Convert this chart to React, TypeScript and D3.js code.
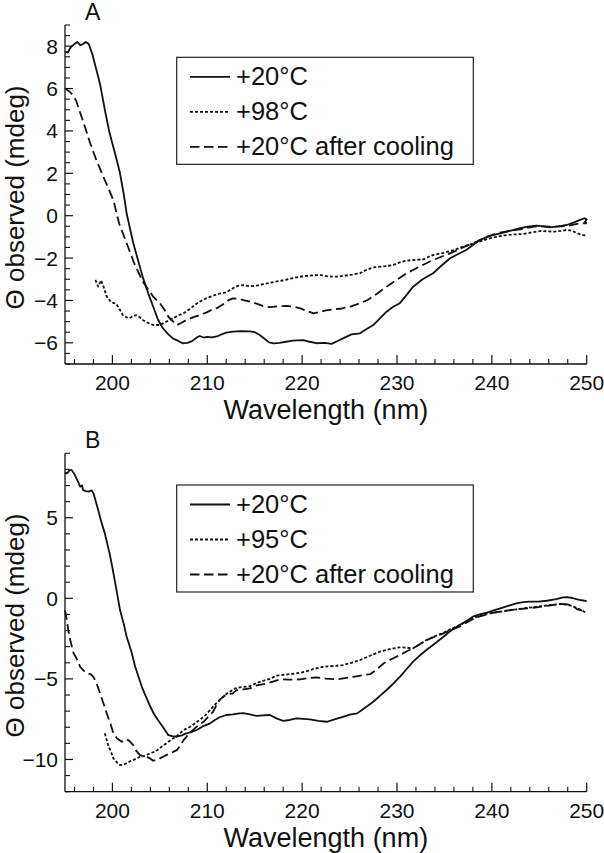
import React from "react";
import * as d3 from "d3";

type Pt = [number, number];

// ---------- Panel A data (wavelength nm, Θ mdeg) ----------
const A_20C: Pt[] = [
  [195.0, 7.75], [195.3, 7.7], [195.6, 7.95], [196.0, 8.1], [196.3, 8.2], [196.6, 8.05], [196.9, 8.1],
  [197.2, 8.2], [197.5, 8.1], [197.9, 7.6], [198.3, 6.9], [198.7, 6.2], [199.2, 5.0], [199.7, 3.9],
  [200.3, 2.9], [200.8, 2.0], [201.2, 1.0], [201.5, 0.1], [202.2, -1.3], [202.7, -2.1], [203.2, -2.9],
  [203.8, -3.7], [204.3, -4.3], [204.8, -4.9], [205.3, -5.3], [205.9, -5.6], [206.4, -5.8], [206.9, -5.9],
  [207.4, -6.02], [207.9, -6.0], [208.4, -5.92], [208.9, -5.75], [209.2, -5.68], [209.6, -5.75], [210.0, -5.72],
  [210.5, -5.74], [211.0, -5.7], [211.5, -5.6], [212.0, -5.52], [212.7, -5.47], [213.5, -5.45], [214.5, -5.46],
  [215.0, -5.5], [215.5, -5.62], [216.0, -5.8], [216.5, -5.98], [217.0, -6.03], [217.6, -6.0], [218.3, -5.95],
  [219.0, -5.9], [220.1, -5.87], [220.8, -5.95], [221.5, -6.02], [222.4, -6.0], [223.1, -6.05], [223.8, -5.9],
  [224.3, -5.79], [225.2, -5.6], [226.1, -5.55], [226.8, -5.35], [227.5, -5.16], [228.2, -4.85], [228.9, -4.53],
  [229.6, -4.3], [230.3, -4.13], [231.0, -3.75], [231.7, -3.35], [232.7, -3.0], [233.8, -2.72], [234.7, -2.35],
  [235.6, -2.01], [236.5, -1.8], [237.3, -1.62], [238.0, -1.38], [238.7, -1.15], [239.8, -0.95], [240.9, -0.83],
  [242.0, -0.7], [243.0, -0.59], [243.8, -0.52], [244.7, -0.47], [245.4, -0.5], [246.1, -0.55], [247.0, -0.5],
  [247.9, -0.44], [248.6, -0.33], [249.3, -0.2], [249.8, -0.12], [250.0, -0.18], [249.8, -0.3], [250.0, -0.35],
];

const A_98C: Pt[] = [
  [198.2, -3.03], [198.5, -3.35], [198.8, -3.05], [199.1, -3.4], [199.4, -3.82], [199.9, -4.1], [200.4, -4.15],
  [200.8, -4.45], [201.1, -4.69], [201.5, -4.8], [201.8, -4.84], [202.2, -4.72], [202.5, -4.69], [202.9, -4.8],
  [203.2, -4.92], [203.7, -5.05], [204.3, -5.16], [205.0, -5.16], [205.7, -5.0], [206.4, -4.84], [207.0, -4.7],
  [207.5, -4.6], [208.2, -4.4], [208.7, -4.2], [209.2, -4.06], [209.9, -3.9], [210.6, -3.78], [211.3, -3.68],
  [212.0, -3.62], [212.4, -3.51], [212.8, -3.4], [213.3, -3.3], [213.8, -3.28], [214.5, -3.33], [215.2, -3.3],
  [216.0, -3.22], [217.0, -3.13], [217.7, -3.08], [218.5, -3.0], [219.4, -2.91], [220.2, -2.85], [221.0, -2.82],
  [221.9, -2.8], [222.7, -2.86], [223.6, -2.88], [224.5, -2.83], [225.3, -2.78], [226.1, -2.72], [226.8, -2.55],
  [227.5, -2.44], [228.5, -2.4], [229.6, -2.33], [230.3, -2.2], [231.0, -2.12], [232.0, -2.08], [232.8, -2.06],
  [233.3, -1.95], [233.8, -1.86], [234.9, -1.75], [236.0, -1.62], [237.0, -1.46], [238.1, -1.3], [239.0, -1.18],
  [239.8, -1.07], [240.7, -0.98], [241.6, -0.91], [242.5, -0.88], [243.4, -0.86], [244.3, -0.78], [245.2, -0.72],
  [245.9, -0.74], [246.6, -0.75], [247.3, -0.72], [247.9, -0.67], [248.5, -0.72], [249.0, -0.83], [249.5, -0.9],
  [250.0, -0.94],
];

const A_20C_cooled: Pt[] = [
  [195.0, 6.01], [195.5, 5.85], [195.9, 5.65], [196.2, 5.4], [196.5, 4.99], [197.1, 4.2], [197.6, 3.49],
  [198.3, 2.63], [199.2, 1.68], [200.1, 0.74], [200.7, -0.36], [201.5, -1.3], [202.3, -2.25], [203.2, -3.11],
  [204.3, -3.82], [205.0, -4.13], [205.5, -4.45], [205.9, -4.77], [206.4, -5.0], [206.8, -5.16], [207.3, -5.05],
  [207.8, -4.92], [208.5, -4.8], [209.2, -4.69], [210.0, -4.55], [210.6, -4.4], [211.0, -4.37], [211.6, -4.2],
  [212.2, -4.0], [212.7, -3.9], [213.2, -3.92], [213.8, -3.98], [214.5, -4.06], [215.2, -4.15], [215.9, -4.27],
  [216.6, -4.32], [217.5, -4.27], [218.4, -4.26], [219.1, -4.3], [219.8, -4.37], [220.5, -4.5], [221.2, -4.61],
  [221.8, -4.55], [222.5, -4.47], [223.3, -4.42], [224.2, -4.38], [225.1, -4.29], [226.0, -4.15], [226.9, -3.98],
  [227.9, -3.68], [228.9, -3.35], [230.0, -3.02], [231.0, -2.72], [232.4, -2.4], [233.8, -2.09], [235.0, -1.88],
  [236.0, -1.7], [237.2, -1.45], [238.4, -1.23], [239.5, -1.0], [240.5, -0.83], [241.5, -0.75], [242.6, -0.67],
  [243.5, -0.6], [244.4, -0.52], [245.5, -0.5], [246.6, -0.52], [247.3, -0.5], [247.9, -0.49], [248.6, -0.42],
  [249.3, -0.36], [250.0, -0.36],
];

// ---------- Panel B data ----------
const B_20C: Pt[] = [
  [195.0, 7.8], [195.2, 7.75], [195.5, 7.95], [195.7, 7.96], [196.0, 7.7], [196.2, 7.45], [196.4, 7.2],
  [196.6, 6.93], [196.8, 7.0], [196.9, 6.72], [197.2, 6.65], [197.5, 6.62], [197.8, 6.7], [198.0, 6.52],
  [198.5, 5.48], [198.8, 4.8], [199.2, 4.03], [199.7, 2.79], [200.0, 1.9], [200.3, 0.93], [200.8, -0.73],
  [201.2, -1.6], [201.5, -2.38], [202.0, -3.3], [202.4, -4.25], [203.1, -5.49], [203.6, -6.2], [204.0, -6.73],
  [204.4, -7.2], [204.8, -7.55], [205.4, -8.05], [205.9, -8.49], [206.3, -8.55], [206.8, -8.59], [207.3, -8.5],
  [207.8, -8.38], [208.3, -8.3], [208.9, -8.17], [209.5, -7.95], [210.3, -7.76], [210.8, -7.55], [211.3, -7.38],
  [212.0, -7.24], [212.7, -7.2], [213.4, -7.14], [213.8, -7.12], [214.5, -7.2], [215.2, -7.3], [215.9, -7.26],
  [216.6, -7.24], [217.3, -7.45], [218.0, -7.6], [218.7, -7.55], [219.4, -7.45], [220.1, -7.48], [220.8, -7.51],
  [221.7, -7.6], [222.6, -7.66], [223.5, -7.5], [224.3, -7.35], [225.0, -7.22], [225.8, -7.14], [226.6, -6.8],
  [227.5, -6.42], [228.2, -6.05], [228.9, -5.69], [229.6, -5.3], [230.3, -4.87], [231.0, -4.4], [231.7, -3.93],
  [232.4, -3.55], [233.1, -3.21], [234.0, -2.8], [234.9, -2.38], [235.7, -2.0], [236.6, -1.66], [237.3, -1.4],
  [238.0, -1.14], [238.8, -0.98], [239.5, -0.89], [240.2, -0.75], [240.9, -0.62], [241.8, -0.45], [242.6, -0.31],
  [243.3, -0.24], [244.0, -0.21], [244.9, -0.2], [245.8, -0.15], [246.8, -0.05], [247.5, 0.06], [247.9, 0.08],
  [248.5, 0.02], [249.0, -0.06], [249.5, -0.12], [250.0, -0.17],
];

const B_95C: Pt[] = [
  [199.2, -8.38], [199.4, -8.8], [199.6, -9.21], [199.9, -9.6], [200.1, -9.93], [200.5, -10.2], [200.8, -10.35],
  [201.1, -10.32], [201.5, -10.24], [201.9, -10.1], [202.2, -10.04], [202.6, -9.92], [202.9, -9.83], [203.3, -9.8],
  [203.6, -9.73], [204.0, -9.6], [204.5, -9.52], [205.0, -9.3], [205.4, -9.11], [205.9, -8.9], [206.4, -8.69],
  [206.8, -8.55], [207.1, -8.38], [207.6, -8.15], [208.2, -7.97], [208.7, -7.75], [209.2, -7.55], [209.8, -7.25],
  [210.3, -6.93], [210.8, -6.6], [211.3, -6.31], [211.8, -6.05], [212.2, -5.85], [212.7, -5.69], [213.1, -5.55],
  [213.8, -5.5], [214.5, -5.45], [215.2, -5.25], [216.0, -5.1], [216.6, -5.0], [217.3, -4.8], [218.0, -4.75],
  [218.8, -4.7], [219.8, -4.62], [220.6, -4.5], [221.4, -4.35], [222.2, -4.25], [223.3, -4.2], [224.3, -4.14],
  [225.2, -4.0], [226.1, -3.83], [227.2, -3.55], [228.2, -3.31], [229.2, -3.15], [230.3, -3.04], [231.0, -3.06],
  [231.7, -3.1], [232.4, -2.85], [233.1, -2.59], [234.0, -2.35], [234.9, -2.14], [235.7, -1.9], [236.6, -1.66],
  [237.5, -1.4], [238.4, -1.14], [239.3, -0.98], [240.2, -0.89], [241.4, -0.78], [242.6, -0.68], [243.7, -0.6],
  [244.7, -0.52], [246.0, -0.43], [247.2, -0.35], [248.0, -0.4], [248.6, -0.5], [249.0, -0.62], [249.5, -0.75],
  [250.0, -0.93],
];

const B_20C_cooled: Pt[] = [
  [195.0, -0.75], [195.2, -1.4], [195.4, -2.17], [195.6, -2.7], [195.9, -3.41], [196.2, -3.7], [196.6, -4.25],
  [197.0, -4.5], [197.3, -4.66], [197.7, -4.7], [198.0, -4.87], [198.4, -5.4], [198.7, -5.9], [199.1, -6.6],
  [199.4, -7.14], [199.8, -7.8], [200.1, -8.38], [200.5, -8.7], [201.0, -8.9], [201.3, -8.75], [201.7, -8.8],
  [202.2, -9.11], [202.5, -9.45], [202.9, -9.73], [203.3, -9.8], [203.6, -9.83], [204.0, -9.95], [204.3, -10.08],
  [204.7, -10.0], [205.0, -9.93], [205.6, -9.75], [206.1, -9.62], [206.5, -9.5], [206.8, -9.42], [207.2, -9.1],
  [207.5, -8.8], [208.0, -8.45], [208.5, -8.17], [209.0, -7.9], [209.6, -7.66], [210.1, -7.35], [210.6, -7.04],
  [211.0, -6.6], [211.3, -6.3], [211.8, -6.05], [212.2, -5.95], [212.7, -5.9], [213.1, -5.7], [213.8, -5.65],
  [214.5, -5.59], [215.2, -5.4], [216.3, -5.28], [217.0, -5.15], [217.7, -5.03], [218.7, -5.05], [219.8, -5.03],
  [220.6, -4.95], [221.5, -4.9], [222.5, -4.98], [223.6, -5.03], [224.5, -4.95], [225.4, -4.87], [226.3, -4.78],
  [227.2, -4.7], [227.9, -4.4], [228.6, -4.03], [229.5, -3.75], [230.3, -3.52], [231.0, -3.3], [231.7, -3.1],
  [232.4, -2.85], [233.1, -2.59], [234.0, -2.38], [234.9, -2.17], [235.7, -1.95], [236.6, -1.76], [237.5, -1.45],
  [238.4, -1.18], [239.3, -1.02], [240.2, -0.89], [241.4, -0.78], [242.6, -0.68], [243.7, -0.62], [244.7, -0.56],
  [246.0, -0.45], [247.2, -0.35], [248.0, -0.38], [248.6, -0.5], [249.0, -0.68], [249.5, -0.75], [250.0, -0.83],
];

// ---------- Axes / labels ----------
const X_DOMAIN: [number, number] = [195, 250];
const X_MAJOR = [200, 210, 220, 230, 240, 250];
const X_MINOR = d3.range(196, 250, 2).filter((v) => v % 10 !== 0);

const A_Y_DOMAIN: [number, number] = [-7, 9];
const A_Y_MAJOR = [-6, -4, -2, 0, 2, 4, 6, 8];
const A_Y_MINOR = d3.range(-7, 9.01, 0.5).filter((v) => !A_Y_MAJOR.includes(v));

const B_Y_DOMAIN: [number, number] = [-12, 9];
const B_Y_MAJOR = [-10, -5, 0, 5];
const B_Y_MINOR = d3.range(-12, 9.01, 1).filter((v) => !B_Y_MAJOR.includes(v));

const A_LEGEND = ["+20°C", "+98°C", "+20°C after cooling"];
const B_LEGEND = ["+20°C", "+95°C", "+20°C after cooling"];
const X_TITLE = "Wavelength (nm)";
const Y_TITLE = "Θ observed (mdeg)";

const FONT = "'Liberation Sans', Arial, Helvetica, sans-serif";
const DASHES = [null, "3 2", "9.5 4.5"];
const INK = "#111";

const fmt = (v: number) => (v < 0 ? "\u2212" + Math.abs(v) : String(v));

interface PanelProps {
  letter: string;
  top: number;
  bottom: number;
  yDomain: [number, number];
  yMajor: number[];
  yMinor: number[];
  series: Pt[][];
  legend: string[];
  legendTop: number;
}

function Panel(p: PanelProps) {
  const left = 65;
  const right = 586.7;
  const x = d3.scaleLinear().domain(X_DOMAIN).range([left, right]);
  const y = d3.scaleLinear().domain(p.yDomain).range([p.bottom, p.top]);
  const line = d3
    .line<Pt>()
    .x((d) => x(d[0]))
    .y((d) => y(d[1]));
  const lgX = 176.7;
  const lgW = 296.6;
  const lgH = 107;
  return (
    <g>
      {p.series.map((s, i) => (
        <path
          key={i}
          d={line(s) || ""}
          fill="none"
          stroke={INK}
          strokeWidth={1.8}
          strokeDasharray={DASHES[i] || undefined}
          strokeLinejoin="round"
        />
      ))}
      <line x1={left} x2={left} y1={p.top} y2={p.bottom} stroke={INK} strokeWidth={1.3} />
      <line x1={left} x2={right} y1={p.bottom} y2={p.bottom} stroke={INK} strokeWidth={1.3} />
      {p.yMajor.map((v) => (
        <g key={"ym" + v}>
          <line x1={left} x2={left + 8} y1={y(v)} y2={y(v)} stroke={INK} strokeWidth={1.2} />
          <text x={left - 7} y={y(v)} dy="0.36em" textAnchor="end" fontSize={21} fontFamily={FONT} fill={INK}>
            {fmt(v)}
          </text>
        </g>
      ))}
      {p.yMinor.map((v) => (
        <line key={"yn" + v} x1={left} x2={left + 5} y1={y(v)} y2={y(v)} stroke={INK} strokeWidth={1.1} />
      ))}
      {X_MAJOR.map((v) => (
        <g key={"xm" + v}>
          <line x1={x(v)} x2={x(v)} y1={p.bottom} y2={p.bottom - 9} stroke={INK} strokeWidth={1.2} />
          <text x={x(v)} y={p.bottom + 26} textAnchor="middle" fontSize={21} fontFamily={FONT} fill={INK}>
            {v}
          </text>
        </g>
      ))}
      {X_MINOR.map((v) => (
        <line key={"xn" + v} x1={x(v)} x2={x(v)} y1={p.bottom} y2={p.bottom - 5} stroke={INK} strokeWidth={1.1} />
      ))}
      <text x={(left + right) / 2} y={p.bottom + 55} textAnchor="middle" fontSize={27} fontFamily={FONT} fill={INK}>
        {X_TITLE}
      </text>
      <text
        transform={`translate(24,${(p.top + p.bottom) / 2 + 3}) rotate(-90)`}
        textAnchor="middle"
        fontSize={26}
        fontFamily={FONT}
        fill={INK}
      >
        {Y_TITLE}
      </text>
      <text x={85} y={p.top - 5} fontSize={23} fontFamily={FONT} fill={INK}>
        {p.letter}
      </text>
      <rect x={lgX} y={p.legendTop} width={lgW} height={lgH} fill="white" stroke="#222" strokeWidth={1.2} />
      {p.legend.map((lab, i) => {
        const cy = p.legendTop + 19.5 + i * 35;
        return (
          <g key={lab + i}>
            <line x1={190} x2={230} y1={cy} y2={cy} stroke={INK} strokeWidth={1.8} strokeDasharray={DASHES[i] || undefined} />
            <text x={236} y={cy + 8.5} fontSize={25.5} fontFamily={FONT} fill={INK}>
              {lab}
            </text>
          </g>
        );
      })}
    </g>
  );
}

export default function App() {
  return (
    <svg width={604} height={853} viewBox="0 0 604 853" style={{ position: "absolute", left: 0, top: 0, background: "white" }}>
      <rect width={604} height={853} fill="white" />
      <Panel
        letter="A"
        top={25}
        bottom={364}
        yDomain={A_Y_DOMAIN}
        yMajor={A_Y_MAJOR}
        yMinor={A_Y_MINOR}
        series={[A_20C, A_98C, A_20C_cooled]}
        legend={A_LEGEND}
        legendTop={57.3}
      />
      <Panel
        letter="B"
        top={453.3}
        bottom={791.7}
        yDomain={B_Y_DOMAIN}
        yMajor={B_Y_MAJOR}
        yMinor={B_Y_MINOR}
        series={[B_20C, B_95C, B_20C_cooled]}
        legend={B_LEGEND}
        legendTop={485}
      />
    </svg>
  );
}
